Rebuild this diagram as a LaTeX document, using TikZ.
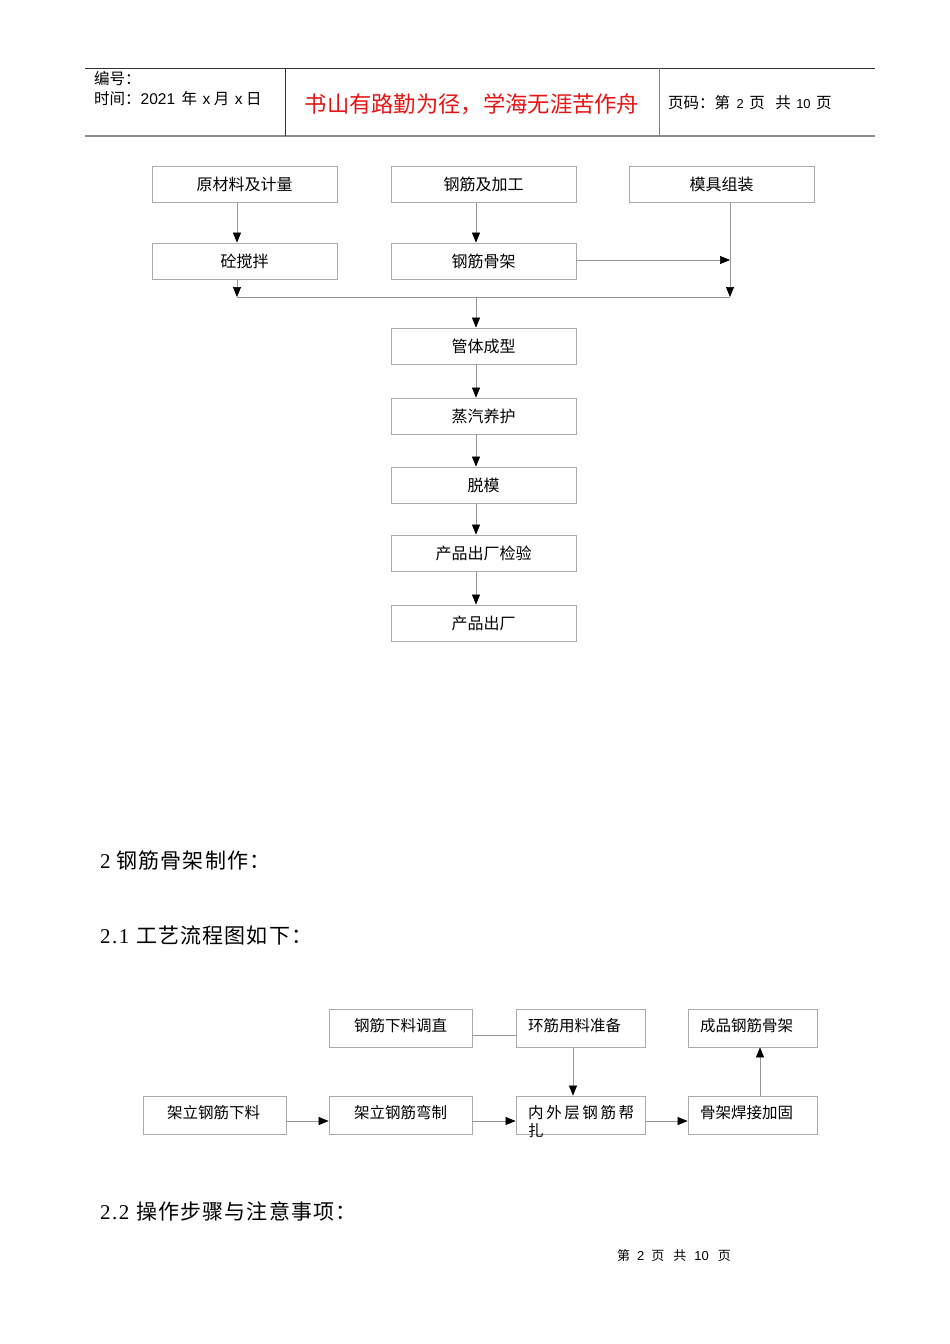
\documentclass[tikz,border=0pt]{standalone}
\usepackage{fontspec}
\setmainfont{Liberation Serif}
\newfontfamily\cjk{Noto Sans CJK SC}
\newfontfamily\arial{Liberation Sans}
\usetikzlibrary{arrows.meta}
\definecolor{boxgray}{RGB}{170,170,170}
\definecolor{linegray}{RGB}{150,150,150}
\definecolor{hdrred}{RGB}{230,20,20}
\newcommand{\gp}{\hspace{1.1pt}}
\tikzset{
  fbox/.style={draw=boxgray, line width=0.8pt, minimum width=185pt, minimum height=36pt, inner sep=0pt, font=\cjk\fontsize{16}{18}\selectfont},
  sbox/.style={draw=boxgray, line width=0.8pt, minimum width=143pt, minimum height=38pt, inner sep=0pt},
  stext/.style={anchor=west, inner sep=0pt, font=\cjk\fontsize{15.5}{18}\selectfont},
  conn/.style={draw=linegray, line width=0.7pt},
  arr/.style={conn, -{Triangle[length=10pt,width=8pt,fill=black,color=black]}},
  txt/.style={anchor=west, inner sep=0pt},
  sect/.style={anchor=west, inner sep=0pt, font=\fontsize{21}{23}\selectfont},
}
\begin{document}
\begin{tikzpicture}[x=1pt,y=-1pt]
\useasboundingbox (0,0) rectangle (950,1344);
\fill[white] (0,0) rectangle (950,1344);
% header
\coordinate (hl) at (85,68); \coordinate (hr) at (875,68);
\coordinate (bl) at (85,136); \coordinate (br) at (875,136);
\draw[line width=0.8pt, black!80] (hl) -- (hr);
\draw[line width=1.6pt, black!45] (bl) -- (br);
\draw[line width=0.8pt, black!80] (285,68) -- (285,136);
\draw[line width=0.8pt, black!50] (659,68) -- (659,136);
\node[txt, font=\cjk\fontsize{15.5}{17}\selectfont] (h1) at (94,79) {编号：};
\node[txt, font=\cjk\fontsize{15.5}{17}\selectfont] (h2) at (94,99) {时间：{\arial 2021}\hspace{3pt} 年\hspace{2pt} {\arial x} 月\hspace{2pt} {\arial x} 日};
\node[inner sep=0pt, text=hdrred, font=\cjk\fontsize{22.3}{24}\selectfont] (h3) at (472,104) {书山有路勤为径，学海无涯苦作舟};
\node[txt, font=\cjk\fontsize{15.5}{17}\selectfont] (h4) at (668,103) {页码：第\hspace{3pt} {\arial\fontsize{13}{15}\selectfont 2}\hspace{2pt} 页\ \ \ 共\hspace{2pt} {\arial\fontsize{13}{15}\selectfont 10}\hspace{2pt} 页};
% top flowchart
\node[fbox] (a1) at (244.5,184.5) {原材料及计量};
\node[fbox] (a2) at (483.5,184.5) {钢筋及加工};
\node[fbox] (a3) at (721.5,184.5) {模具组装};
\node[fbox] (b1) at (244.5,261) {砼搅拌};
\node[fbox] (b2) at (483.5,261) {钢筋骨架};
\node[fbox] (c1) at (483.5,346) {管体成型};
\node[fbox] (c2) at (483.5,416) {蒸汽养护};
\node[fbox] (c3) at (483.5,485) {脱模};
\node[fbox] (c4) at (483.5,553) {产品出厂检验};
\node[fbox] (c5) at (483.5,623) {产品出厂};
\coordinate (jl) at (237,297);
\coordinate (jr) at (730,297);
\coordinate (jm) at (476,297);
\coordinate (jb) at (730,260);
\draw[arr] (a1.south -| jl) -- (b1.north -| jl);
\draw[arr] (a2.south -| jm) -- (b2.north -| jm);
\draw[arr] (a3.south -| jr) -- (jr);
\draw[arr] (b2.east |- jb) -- (jb);
\draw[arr] (b1.south -| jl) -- (jl);
\draw[conn] (jl) -- (jr);
\draw[arr] (jm) -- (c1.north -| jm);
\draw[arr] (c1.south -| jm) -- (c2.north -| jm);
\draw[arr] (c2.south -| jm) -- (c3.north -| jm);
\draw[arr] (c3.south -| jm) -- (c4.north -| jm);
\draw[arr] (c4.south -| jm) -- (c5.north -| jm);
% section texts
\node[sect] (s1) at (100,861) {2\hspace{6pt}{\cjk 钢\gp 筋\gp 骨\gp 架\gp 制\gp 作\gp ：}};
\node[sect] (s2) at (100,936) {2\hspace{1.5pt}.\hspace{1.5pt}1\hspace{7pt}{\cjk 工\gp 艺\gp 流\gp 程\gp 图\gp 如\gp 下\gp ：}};
\node[sect] (s3) at (100,1211) {2\hspace{1.5pt}.\hspace{1.5pt}2\hspace{7pt}{\cjk 操\gp 作\gp 步\gp 骤\gp 与\gp 注\gp 意\gp 事\gp 项\gp ：}};
% bottom flowchart
\node[sbox] (d1) at (400.5,1028) {};
\node[sbox, minimum width=129pt] (d2) at (580.5,1028) {};
\node[sbox, minimum width=129pt] (d3) at (752.5,1028) {};
\node[sbox] (e1) at (214.5,1115) {};
\node[sbox] (e2) at (400.5,1115) {};
\node[sbox, minimum width=129pt] (e3) at (580.5,1115) {};
\node[sbox, minimum width=129pt] (e4) at (752.5,1115) {};
\node[stext] (t1) at (354,1026) {钢筋下料调直};
\node[stext] (t2) at (528,1026) {环筋用料准备};
\node[stext] (t3) at (700,1026) {成品钢筋骨架};
\node[stext] (t4) at (167,1113) {架立钢筋下料};
\node[stext] (t5) at (354,1113) {架立钢筋弯制};
\node[stext] (t6) at (528,1113) {内\,外\,层\,钢\,筋\,帮};
\node[stext] (t6b) at (528,1131) {扎};
\node[stext] (t7) at (700,1113) {骨架焊接加固};
\coordinate (y1) at (0,1035);
\coordinate (y2) at (0,1121);
\coordinate (xv) at (573,0);
\coordinate (xu) at (760,0);
\draw[conn] (d1.east |- y1) -- (d2.west |- y1);
\draw[arr] (d2.south -| xv) -- (e3.north -| xv);
\draw[arr] (e1.east |- y2) -- (e2.west |- y2);
\draw[arr] (e2.east |- y2) -- (e3.west |- y2);
\draw[arr] (e3.east |- y2) -- (e4.west |- y2);
\draw[arr] (e4.north -| xu) -- (d3.south -| xu);
% footer
\node[txt, font=\cjk\fontsize{13}{15}\selectfont] (f1) at (617,1256) {第\hspace{7pt}{\arial 2}\hspace{7pt}页\hspace{9pt}共\hspace{8pt}{\arial 10}\hspace{9pt}页};
\end{tikzpicture}
\end{document}
